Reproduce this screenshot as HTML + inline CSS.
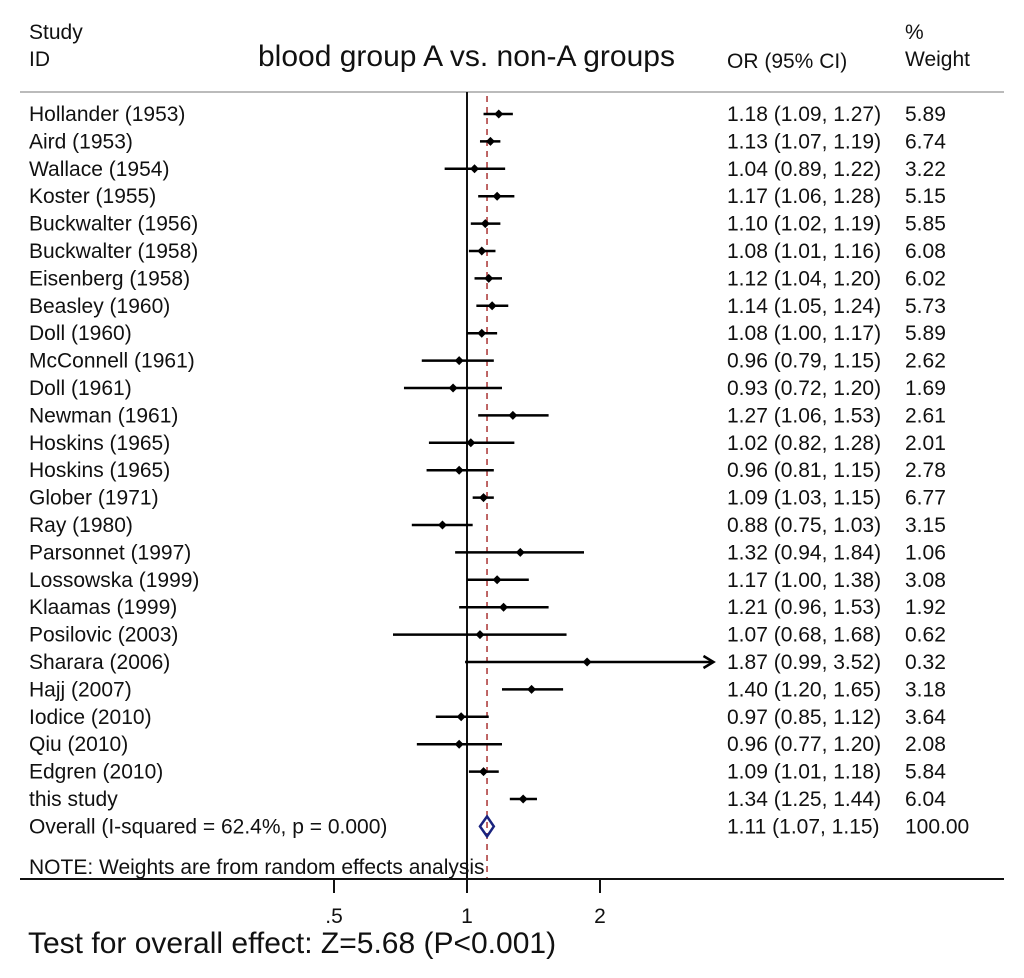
<!DOCTYPE html>
<html><head><meta charset="utf-8">
<style>
body{margin:0;background:#fff;}
svg{display:block;font-family:"Liberation Sans",Arial,sans-serif;}
</style></head>
<body>
<svg id="plot" width="1024" height="978" viewBox="0 0 1024 978" xmlns="http://www.w3.org/2000/svg">
<g font-size="21" fill="#111">
<text x="29" y="39">Study</text>
<text x="29" y="66">ID</text>
<text x="258" y="66" font-size="30">blood group A vs. non-A groups</text>
<text x="727" y="68">OR (95% CI)</text>
<text x="905" y="39">%</text>
<text x="905" y="66">Weight</text>
</g>
<line x1="20" y1="92" x2="1004" y2="92" stroke="#bbb" stroke-width="2"/>
<g id="rows"></g>
<text x="29" y="874" font-size="21" fill="#111">NOTE: Weights are from random effects analysis</text>
<line x1="20" y1="879" x2="1004" y2="879" stroke="#111" stroke-width="2"/>
<g id="ticks"></g>
<text x="28" y="953" font-size="30" fill="#111">Test for overall effect: Z=5.68 (P&lt;0.001)</text>
</svg>
<script>
const studies=["Hollander  (1953)","Aird (1953)","Wallace (1954)","Koster (1955)","Buckwalter (1956)","Buckwalter (1958)","Eisenberg (1958)","Beasley  (1960)","Doll  (1960)","McConnell  (1961)","Doll  (1961)","Newman  (1961)","Hoskins (1965)","Hoskins  (1965)","Glober (1971)","Ray  (1980)","Parsonnet  (1997)","Lossowska (1999)","Klaamas  (1999)","Posilovic (2003)","Sharara  (2006)","Hajj (2007)","Iodice  (2010)","Qiu (2010)","Edgren  (2010)","this study"];
const orValues=[1.18,1.13,1.04,1.17,1.10,1.08,1.12,1.14,1.08,0.96,0.93,1.27,1.02,0.96,1.09,0.88,1.32,1.17,1.21,1.07,1.87,1.40,0.97,0.96,1.09,1.34];
const ciLow=[1.09,1.07,0.89,1.06,1.02,1.01,1.04,1.05,1.00,0.79,0.72,1.06,0.82,0.81,1.03,0.75,0.94,1.00,0.96,0.68,0.99,1.20,0.85,0.77,1.01,1.25];
const ciHigh=[1.27,1.19,1.22,1.28,1.19,1.16,1.20,1.24,1.17,1.15,1.20,1.53,1.28,1.15,1.15,1.03,1.84,1.38,1.53,1.68,3.52,1.65,1.12,1.20,1.18,1.44];
const weights=["5.89","6.74","3.22","5.15","5.85","6.08","6.02","5.73","5.89","2.62","1.69","2.61","2.01","2.78","6.77","3.15","1.06","3.08","1.92","0.62","0.32","3.18","3.64","2.08","5.84","6.04"];
const overallLabel="Overall  (I-squared = 62.4%, p = 0.000)";
const overallOR=[1.11,1.07,1.15];
const overallWeight="100.00";
const tickValues=[0.5,1,2];
const tickLabels=[".5","1","2"];
const xMax=3.6;

const NS="http://www.w3.org/2000/svg";
const x=v=>467+133*Math.log2(v);
const rowY=i=>114+27.4*i;
const rows=document.getElementById('rows');
function mk(tag,attrs,parent){const e=document.createElementNS(NS,tag);for(const k in attrs)e.setAttribute(k,attrs[k]);(parent||rows).appendChild(e);return e;}
const f2=v=>v.toFixed(2);
const FS=21;

const nl=mk('line',{x1:x(1),y1:92,x2:x(1),y2:893,stroke:'#111','stroke-width':2});


const ol=mk('line',{x1:x(overallOR[0]),y1:96,x2:x(overallOR[0]),y2:879,stroke:'#a33','stroke-width':1.5,'stroke-dasharray':'6,5'});



studies.forEach((s,i)=>{
  const y=rowY(i);
  const g=mk('g',{});
  
  
  const t=mk('text',{x:29,y:y+7,'font-size':FS,fill:'#111'},g);t.textContent=s;
  
  
  const arrow=ciHigh[i]>3;
  const hi=Math.min(ciHigh[i],xMax);
  const endX=arrow?x(hi)+5:x(hi);
  const ln=mk('line',{x1:x(ciLow[i]),y1:y,x2:endX,y2:y,stroke:'#000','stroke-width':2.5},g);
  
  
  if(arrow){
    const a=mk('path',{d:`M${endX-10},${y-6} L${endX},${y} L${endX-10},${y+6}`,fill:'none',stroke:'#000','stroke-width':2.5},g);
    
    
  }
  const cx=x(orValues[i]);
  const d=mk('path',{d:`M${cx-4.5},${y} L${cx},${y-4.5} L${cx+4.5},${y} L${cx},${y+4.5}Z`,fill:'#000'},g);
  
  
  const o=mk('text',{x:727,y:y+7,'font-size':FS,fill:'#111'},g);
  o.textContent=`${f2(orValues[i])} (${f2(ciLow[i])}, ${f2(ciHigh[i])})`;
  
  
  const w=mk('text',{x:905,y:y+7,'font-size':FS,fill:'#111'},g);w.textContent=weights[i];
  
  
});
{
  const y=rowY(studies.length);
  const g=mk('g',{});
  
  
  const t=mk('text',{x:29,y:y+7,'font-size':FS,fill:'#111'},g);t.textContent=overallLabel;
  
  
  const c=x(overallOR[0]),l=x(overallOR[1]),h=x(overallOR[2]);
  const dm=mk('path',{d:`M${l},${y} L${c},${y-10} L${h},${y} L${c},${y+10}Z`,fill:'none',stroke:'#1a237e','stroke-width':2.5},g);
  
  
  const o=mk('text',{x:727,y:y+7,'font-size':FS,fill:'#111'},g);
  o.textContent=`${f2(overallOR[0])} (${f2(overallOR[1])}, ${f2(overallOR[2])})`;
  
  
  const w=mk('text',{x:905,y:y+7,'font-size':FS,fill:'#111'},g);w.textContent=overallWeight;
  
  
}
const tk=document.getElementById('ticks');
tickValues.forEach((v,i)=>{
  const l=mk('line',{x1:x(v),y1:879,x2:x(v),y2:893,stroke:'#111','stroke-width':2},tk);
  
  
  const t=mk('text',{x:x(v),y:923,'font-size':FS,fill:'#111','text-anchor':'middle'},tk);t.textContent=tickLabels[i];
  
  
});
</script>
</body></html>
